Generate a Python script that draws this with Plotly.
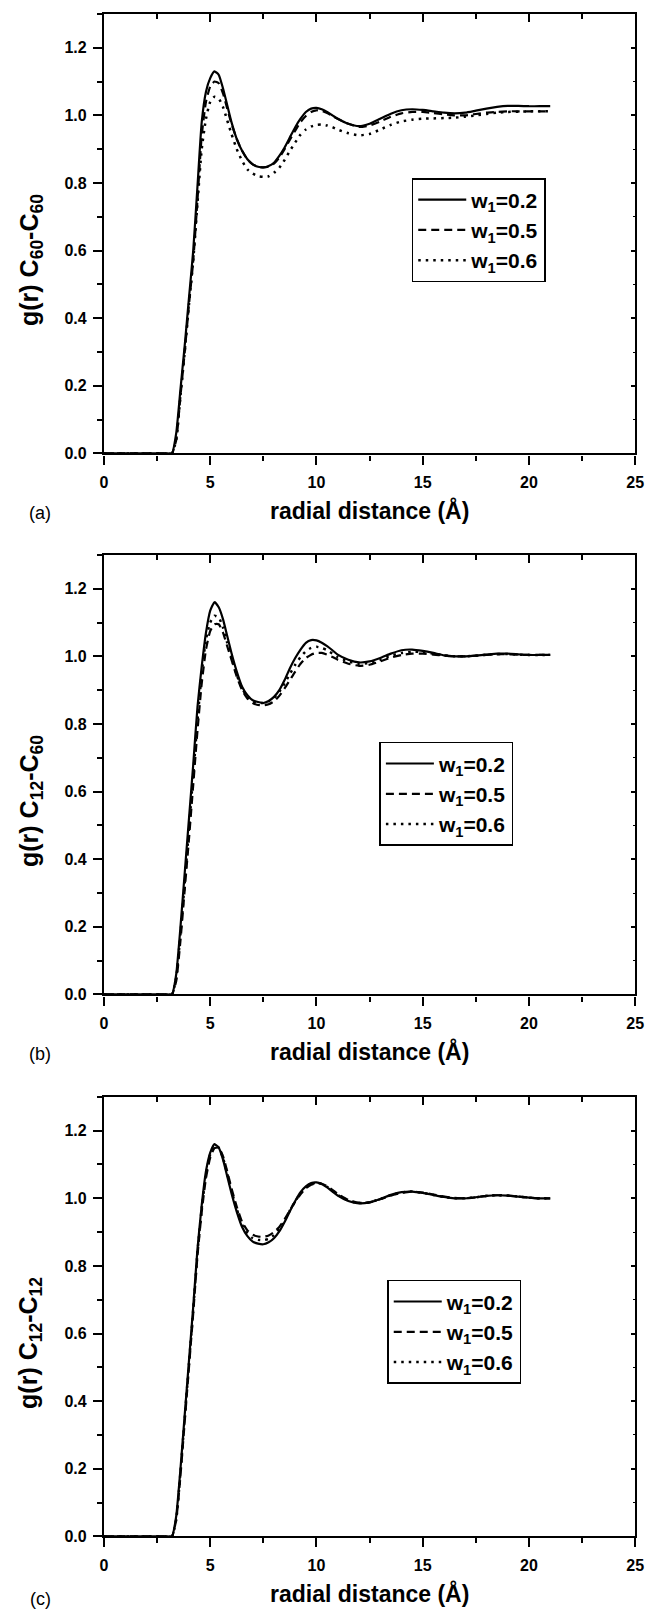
import plotly.graph_objects as go

# ---------------- data ----------------
r = [0.0, 3.0, 3.2, 3.4, 3.6, 3.8, 4.0, 4.2, 4.4, 4.6, 4.8, 5.0, 5.2, 5.4, 5.6, 5.8,
     6.0, 6.25, 6.5, 6.75, 7.0, 7.25, 7.5, 7.75, 8.0, 8.25, 8.5, 8.75, 9.0, 9.25,
     9.5, 9.75, 10.0, 10.25, 10.5, 10.75, 11.0, 11.5, 12.0, 12.5, 13.0, 13.5, 14.0,
     14.5, 15.0, 15.5, 16.0, 16.5, 17.0, 17.5, 18.0, 18.5, 19.0, 19.5, 20.0, 20.5, 21.0]

a_w02 = [0, 0, 0.0, 0.06, 0.19, 0.32, 0.46, 0.60, 0.79, 0.98, 1.07, 1.11, 1.13, 1.12, 1.08, 1.03,
         0.98, 0.93, 0.895, 0.87, 0.855, 0.848, 0.846, 0.85, 0.86, 0.88, 0.905, 0.935, 0.965, 0.99,
         1.01, 1.02, 1.022, 1.018, 1.01, 1.0, 0.99, 0.975, 0.968, 0.975, 0.99, 1.005, 1.015,
         1.018, 1.016, 1.012, 1.008, 1.006, 1.008, 1.014, 1.02, 1.025, 1.028, 1.028, 1.027, 1.027, 1.027]
a_w05 = [0, 0, 0.0, 0.04, 0.17, 0.30, 0.44, 0.57, 0.75, 0.94, 1.04, 1.085, 1.10, 1.095, 1.065, 1.02,
         0.975, 0.93, 0.895, 0.87, 0.855, 0.848, 0.846, 0.848, 0.857, 0.875, 0.90, 0.928, 0.955, 0.98,
         0.998, 1.01, 1.015, 1.013, 1.007, 0.998, 0.99, 0.975, 0.966, 0.97, 0.982, 0.996, 1.006,
         1.01, 1.01, 1.007, 1.003, 1.0, 1.0, 1.004, 1.008, 1.01, 1.012, 1.012, 1.012, 1.012, 1.012]
a_w06 = [0, 0, 0.0, 0.04, 0.17, 0.30, 0.44, 0.57, 0.74, 0.90, 0.99, 1.04, 1.055, 1.05, 1.025, 0.985,
         0.945, 0.90, 0.865, 0.84, 0.828, 0.82, 0.818, 0.82, 0.83, 0.845, 0.868, 0.895, 0.92, 0.943,
         0.958, 0.967, 0.972, 0.973, 0.97, 0.965, 0.958, 0.947, 0.941, 0.945, 0.958, 0.972, 0.982,
         0.987, 0.99, 0.991, 0.992, 0.993, 0.996, 1.0, 1.004, 1.008, 1.01, 1.011, 1.012, 1.012, 1.012]

b_w02 = [0, 0, 0.0, 0.06, 0.20, 0.36, 0.52, 0.68, 0.85, 0.97, 1.07, 1.135, 1.16, 1.145, 1.11, 1.06,
         1.01, 0.955, 0.91, 0.885, 0.87, 0.865, 0.862, 0.868, 0.88, 0.90, 0.93, 0.965, 0.995, 1.02,
         1.04, 1.048, 1.047, 1.04, 1.03, 1.018, 1.005, 0.99, 0.982, 0.985, 0.995, 1.008, 1.018,
         1.02, 1.016, 1.01, 1.003, 1.0, 1.0, 1.002, 1.005, 1.008, 1.008, 1.006, 1.004, 1.004, 1.004]
b_w05 = [0, 0, 0.0, 0.04, 0.16, 0.31, 0.46, 0.62, 0.78, 0.92, 1.02, 1.075, 1.095, 1.095, 1.07, 1.03,
         0.99, 0.94, 0.90, 0.875, 0.862, 0.856, 0.855, 0.858, 0.867, 0.883, 0.905, 0.93, 0.955, 0.978,
         0.995, 1.005, 1.01, 1.01, 1.005, 0.998, 0.99, 0.978, 0.972, 0.975, 0.985, 0.996, 1.004,
         1.008, 1.008, 1.005, 1.002, 1.0, 1.0, 1.002, 1.004, 1.006, 1.006, 1.005, 1.004, 1.004, 1.004]
b_w06 = [0, 0, 0.0, 0.05, 0.18, 0.33, 0.49, 0.65, 0.81, 0.95, 1.05, 1.10, 1.12, 1.115, 1.085, 1.04,
         0.995, 0.945, 0.905, 0.88, 0.868, 0.862, 0.862, 0.867, 0.877, 0.895, 0.92, 0.948, 0.975, 0.998,
         1.015, 1.025, 1.028, 1.025, 1.018, 1.008, 0.998, 0.985, 0.978, 0.98, 0.99, 1.002, 1.01,
         1.014, 1.012, 1.008, 1.003, 1.0, 1.0, 1.002, 1.005, 1.007, 1.007, 1.005, 1.004, 1.004, 1.004]

c_w02 = [0, 0, 0.0, 0.06, 0.20, 0.36, 0.52, 0.68, 0.85, 0.98, 1.08, 1.135, 1.16, 1.15, 1.115, 1.065,
         1.015, 0.96, 0.915, 0.888, 0.872, 0.866, 0.864, 0.87, 0.882, 0.902, 0.93, 0.962, 0.992, 1.018,
         1.035, 1.045, 1.047, 1.042, 1.032, 1.02, 1.008, 0.992, 0.985, 0.988, 0.998, 1.01, 1.018,
         1.02, 1.016, 1.01, 1.004, 1.0, 1.0, 1.003, 1.007, 1.009, 1.008, 1.005, 1.002, 1.0, 1.0]
c_w05 = [0, 0, 0.0, 0.05, 0.18, 0.34, 0.50, 0.66, 0.83, 0.96, 1.06, 1.12, 1.148, 1.15, 1.125, 1.08,
         1.03, 0.975, 0.93, 0.905, 0.892, 0.887, 0.886, 0.89, 0.90, 0.915, 0.938, 0.965, 0.99, 1.012,
         1.03, 1.04, 1.045, 1.043, 1.036, 1.025, 1.013, 0.995, 0.987, 0.988, 0.997, 1.008, 1.016,
         1.02, 1.017, 1.011, 1.005, 1.001, 1.0, 1.003, 1.007, 1.009, 1.008, 1.005, 1.002, 1.0, 1.0]
c_w06 = [0, 0, 0.0, 0.05, 0.19, 0.35, 0.51, 0.67, 0.84, 0.97, 1.07, 1.13, 1.155, 1.15, 1.12, 1.072,
         1.022, 0.968, 0.922, 0.896, 0.882, 0.877, 0.876, 0.88, 0.891, 0.909, 0.934, 0.964, 0.991, 1.015,
         1.032, 1.042, 1.046, 1.042, 1.034, 1.022, 1.01, 0.993, 0.986, 0.988, 0.998, 1.009, 1.017,
         1.02, 1.016, 1.01, 1.004, 1.0, 1.0, 1.003, 1.007, 1.009, 1.008, 1.005, 1.002, 1.0, 1.0]

series_names = ["w<sub>1</sub>=0.2", "w<sub>1</sub>=0.5", "w<sub>1</sub>=0.6"]
panel_series = [[a_w02, a_w05, a_w06], [b_w02, b_w05, b_w06], [c_w02, c_w05, c_w06]]
y_titles = ["g(r) C<sub>60</sub>-C<sub>60</sub>",
            "g(r) C<sub>12</sub>-C<sub>60</sub>",
            "g(r) C<sub>12</sub>-C<sub>12</sub>"]
panel_tags = ["(a)", "(b)", "(c)"]
x_title = "radial distance (Å)"
x_ticks = [0, 5, 10, 15, 20, 25]
y_ticks = [0.0, 0.2, 0.4, 0.6, 0.8, 1.0, 1.2]

# ---------------- layout geometry ----------------
W, H = 655, 1616
X0, X1 = 102, 644
PANELS = [(14, 456), (558, 1000), (1103, 1545)]
LEGEND_POS = [(416, 179), (383, 746), (391, 1287)]
FONT = "Arial, Liberation Sans, Helvetica, sans-serif"
dashes = ["solid", "8px,5px", "2.5px,5px"]
widths = [2.2, 2.2, 2.5]


def px(x):
    return x / W


def py(y):
    return 1 - y / H


fig = go.Figure()
layout = dict(
    width=W, height=H, margin=dict(l=0, r=0, t=0, b=0),
    paper_bgcolor="white", plot_bgcolor="white",
    font=dict(family=FONT, color="black"),
    annotations=[],
)

for i, (top, bot) in enumerate(PANELS):
    n = i + 1
    sfx = "" if n == 1 else str(n)
    xa, ya = "x" + sfx, "y" + sfx
    top_n, right_n = n + 3, n + 6
    leg = "legend" if n == 1 else "legend%d" % n

    for j, ys in enumerate(panel_series[i]):
        fig.add_trace(go.Scatter(
            x=r, y=ys, mode="lines", name=series_names[j],
            line=dict(color="black", width=widths[j], dash=dashes[j], shape="spline", smoothing=0.5),
            xaxis=xa, yaxis=ya, legend=leg, hoverinfo="skip"))
    # helper traces to activate mirrored (top / right) axes
    fig.add_trace(go.Scatter(x=[None], y=[None], xaxis="x%d" % top_n, yaxis=ya,
                             showlegend=False, hoverinfo="skip"))
    fig.add_trace(go.Scatter(x=[None], y=[None], xaxis=xa, yaxis="y%d" % right_n,
                             showlegend=False, hoverinfo="skip"))

    common = dict(showgrid=False, zeroline=False, showline=True, linecolor="black",
                  linewidth=2.2, tickcolor="black", tickwidth=2)
    layout["xaxis" + sfx] = dict(
        domain=[px(X0), px(X1)], anchor=ya, range=[0, 25], tickvals=x_ticks,
        ticks="outside", ticklen=9, ticklabelstandoff=4,
        minor=dict(dtick=2.5, ticks="outside", ticklen=5, tickwidth=2, tickcolor="black", showgrid=False),
        tickfont=dict(family=FONT, size=16, color="black", weight="bold"), **common)
    layout["yaxis" + sfx] = dict(
        domain=[py(bot), py(top)], anchor=xa, range=[0, 1.3], tickvals=y_ticks,
        tickformat=".1f", ticks="outside", ticklen=9, ticklabelstandoff=3,
        minor=dict(dtick=0.1, ticks="outside", ticklen=5, tickwidth=2, tickcolor="black", showgrid=False),
        tickfont=dict(family=FONT, size=16, color="black", weight="bold"), **common)
    layout["xaxis%d" % top_n] = dict(
        overlaying=xa, anchor=ya, side="top", range=[0, 25], tickvals=x_ticks,
        ticks="inside", ticklen=8, showticklabels=False,
        minor=dict(dtick=2.5, ticks="inside", ticklen=5, tickwidth=2, tickcolor="black", showgrid=False),
        **common)
    layout["yaxis%d" % right_n] = dict(
        overlaying=ya, anchor=xa, side="right", range=[0, 1.3], tickvals=y_ticks,
        ticks="inside", ticklen=4, showticklabels=False,
        minor=dict(dtick=0.1, ticks="inside", ticklen=2, tickwidth=1, tickcolor="black", showgrid=False),
        **common)

    lx, ly = LEGEND_POS[i]
    layout[leg] = dict(
        x=px(lx), y=py(ly), xanchor="left", yanchor="top",
        bgcolor="white", bordercolor="black", borderwidth=1.5,
        font=dict(family=FONT, size=21, color="black", weight="bold"),
        itemwidth=48, tracegroupgap=0)

    mid = (top + bot) / 2
    layout["annotations"] += [
        dict(text=x_title, x=px((X0 + X1) / 2), y=py(bot + 57), xref="paper", yref="paper",
             xanchor="center", yanchor="middle", showarrow=False,
             font=dict(family=FONT, size=23, color="black", weight="bold")),
        dict(text=y_titles[i], x=px(27), y=py(mid + 26), xref="paper", yref="paper",
             xanchor="center", yanchor="middle", showarrow=False, textangle=-90,
             font=dict(family=FONT, size=25, color="black", weight="bold")),
        dict(text=panel_tags[i], x=px(37), y=py(bot + 60 + (3 if i == 2 else 0)), xref="paper", yref="paper",
             xanchor="center", yanchor="middle", showarrow=False,
             font=dict(family=FONT, size=18, color="black")),
    ]

fig.update_layout(**layout)
fig.write_html("out.html")
